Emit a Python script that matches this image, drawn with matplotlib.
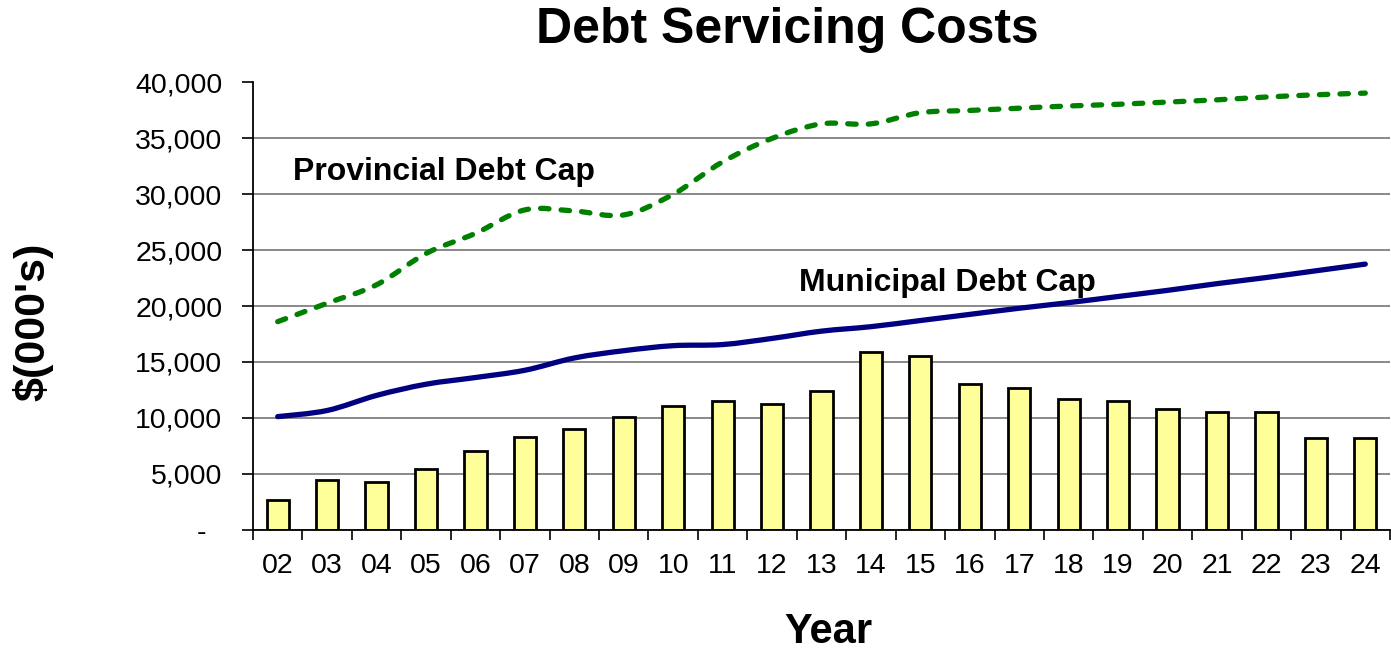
import matplotlib
matplotlib.use("Agg")
import matplotlib.pyplot as plt
from matplotlib.path import Path
from matplotlib.patches import PathPatch
from matplotlib.ticker import FuncFormatter
import numpy as np

plt.rcParams['font.family'] = ['Liberation Sans', 'DejaVu Sans']

# Fiscal years (two-digit)
years = ["02", "03", "04", "05", "06", "07", "08", "09", "10", "11", "12", "13",
         "14", "15", "16", "17", "18", "19", "20", "21", "22", "23", "24"]

# Annual debt servicing costs, $000's
servicing = [2600, 4450, 4250, 5450, 7050, 8300, 8950, 10050, 11050, 11500, 11200, 12400,
             15900, 15500, 13000, 12700, 11700, 11500, 10800, 10550, 10500, 8200, 8200]

# Municipal debt cap, $000's
municipal_cap = [10100, 10650, 12000, 13000, 13600, 14250, 15350, 16000, 16450, 16550, 17100, 17750,
                 18150, 18700, 19250, 19800, 20300, 20850, 21400, 22000, 22550, 23150, 23750]

# Provincial debt cap, $000's
provincial_cap = [18600, 20250, 21900, 24700, 26500, 28600, 28500, 28150, 30000, 32900, 35000, 36300,
                  36300, 37300, 37500, 37700, 37900, 38050, 38250, 38450, 38700, 38900, 39050]

y_ticks = [0, 5000, 10000, 15000, 20000, 25000, 30000, 35000, 40000]


def smooth_path(xs, ys):
    """Bezier path passing through every (x, y) point, Catmull-Rom style tangents."""
    pts = np.column_stack([xs, ys]).astype(float)
    n = len(pts)
    verts = [pts[0]]
    codes = [Path.MOVETO]
    for i in range(n - 1):
        p0 = pts[i - 1] if i > 0 else pts[i]
        p1 = pts[i]
        p2 = pts[i + 1]
        p3 = pts[i + 2] if i + 2 < n else pts[i + 1]
        c1 = p1 + (p2 - p0) / 6.0
        c2 = p2 - (p3 - p1) / 6.0
        verts += [c1, c2, p2]
        codes += [Path.CURVE4] * 3
    return Path(verts, codes)


W, H = 1391, 650
fig = plt.figure(figsize=(W / 100, H / 100), dpi=100)
ax = fig.add_axes([253 / W, 1 - 529.5 / H, (1390 - 253) / W, (529.5 - 82.5) / H])

x = np.arange(len(years))

# gridlines
ax.set_axisbelow(True)
ax.yaxis.grid(True, color="#808080", linewidth=1.3)

ax.bar(x, servicing, width=0.45, color="#FFFF99", edgecolor="black", linewidth=2.0, zorder=2)

ax.add_patch(PathPatch(smooth_path(x, municipal_cap), fill=False, edgecolor="#000080",
                       linewidth=3.8, zorder=3, capstyle="round", joinstyle="round"))
ax.add_patch(PathPatch(smooth_path(x, provincial_cap), fill=False, edgecolor="#008000",
                       linewidth=3.8, linestyle=(0, (1.6, 2.3)), capstyle="round", zorder=3))

ax.text(0.3, 32000, "Provincial Debt Cap", fontsize=23, fontweight="bold", va="center", ha="left")
ax.text(10.55, 22100, "Municipal Debt Cap", fontsize=23, fontweight="bold", va="center", ha="left")

ax.set_xlim(-0.5, len(years) - 0.5)
ax.set_ylim(0, 40000)

ax.set_yticks(y_ticks)
ax.yaxis.set_major_formatter(FuncFormatter(lambda v, p: "-  " if v == 0 else f"{int(v):,}"))
ax.tick_params(axis="y", length=8, width=1.2, pad=14, labelsize=20.5, color="black")

# tick marks at category boundaries, labels at category centres
ax.set_xticks(np.arange(len(years) + 1) - 0.5)
ax.set_xticklabels([])
ax.set_xticks(x, minor=True)
ax.set_xticklabels(years, minor=True)
ax.tick_params(axis="x", which="major", length=7, width=1.2, color="black")
ax.tick_params(axis="x", which="minor", length=0, pad=17, labelsize=20.5)

for side in ("top", "right"):
    ax.spines[side].set_visible(False)
ax.spines["left"].set_linewidth(1.3)
ax.spines["bottom"].set_linewidth(1.3)

fig.text(787 / W, 1 - 30 / H, "Debt Servicing Costs", fontsize=36, fontweight="bold",
         ha="center", va="center")
fig.text(828 / W, 1 - 632 / H, "Year", fontsize=30, fontweight="bold", ha="center", va="center")
fig.text(33 / W, 1 - 322 / H, "$(000's)", fontsize=31, fontweight="bold", ha="center",
         va="center", rotation=90)

fig.savefig("out.png", dpi=100)
